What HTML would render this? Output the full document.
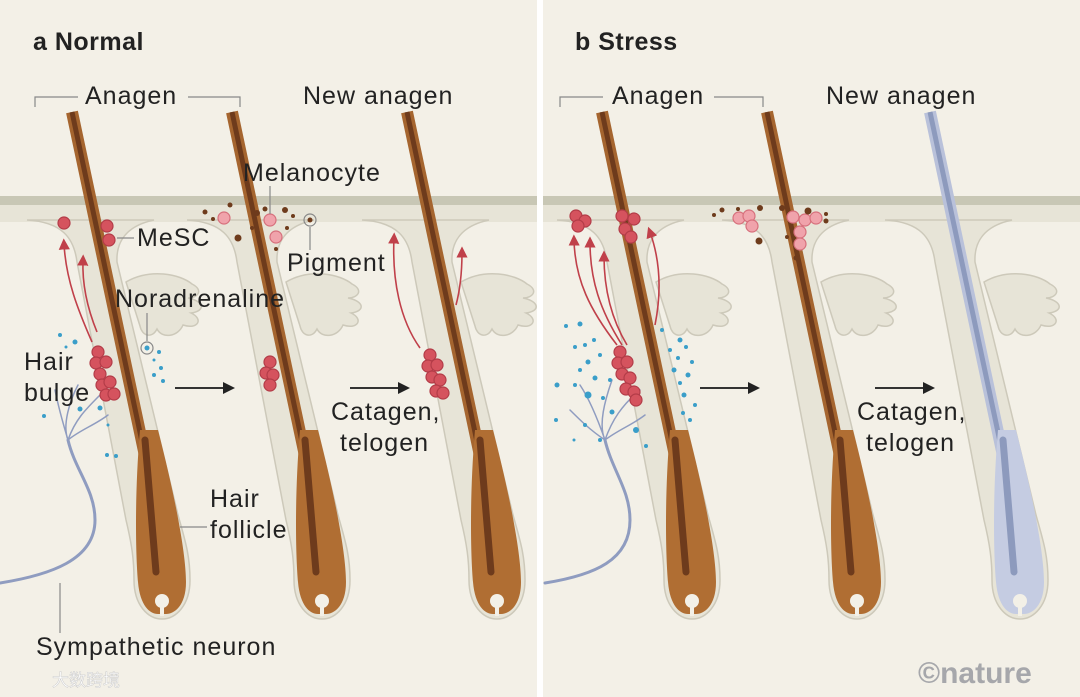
<!DOCTYPE html>
<html><head><meta charset="utf-8"><style>
html,body{margin:0;padding:0;background:#fff}
svg{display:block}
text{font-family:"Liberation Sans","Noto Sans CJK SC",sans-serif;fill:#222}
</style></head><body>
<svg width="1080" height="697" viewBox="0 0 1080 697" xmlns="http://www.w3.org/2000/svg">
<defs>
<g id="sheath">
<path d="M-135 220 C-100 222 -88 238 -85 262 L-36 520 C-30 545 -28 560 -28 580 C-28 605 -14 619 0 619 C14 619 28 605 28 580 C28 555 23 540 16 515 L-45 262 C-46 242 -36 226 -8 220 Z" fill="#e7e4d7" stroke="#cdc9ba" stroke-width="1.5"/>
<path d="M-36 282 C-12 268 18 274 30 284 C42 290 36 298 26 298 C42 301 44 311 29 313 C42 319 36 330 21 325 C16 337 0 339 -5 329 C-10 339 -20 336 -22 326 Z" fill="#e7e4d7" stroke="#cdc9ba" stroke-width="1.5"/>
</g>
<g id="hairB">
<line x1="-90" y1="112" x2="-14" y2="470" stroke="#a5652f" stroke-width="12"/>
<line x1="-90" y1="112" x2="-14" y2="470" stroke="#6e3b1c" stroke-width="5"/>
<path d="M-22 430 C-28 500 -26 560 -24 582 C-22 606 -12 614 -4 614 L4 614 C12 614 24 606 24 582 C24 555 14 500 -4 430 Z" fill="#b06e33"/>
<line x1="-17" y1="440" x2="-6" y2="572" stroke="#6e3b1c" stroke-width="7" stroke-linecap="round"/>
<circle cx="0" cy="601" r="7" fill="#f3f0e7"/><rect x="-2" y="600" width="4" height="16" fill="#f3f0e7"/>
</g>
<g id="hairG">
<line x1="-90" y1="112" x2="-14" y2="470" stroke="#b9c1da" stroke-width="12"/>
<line x1="-90" y1="112" x2="-14" y2="470" stroke="#8d9abd" stroke-width="5"/>
<path d="M-22 430 C-28 500 -26 560 -24 582 C-22 606 -12 614 -4 614 L4 614 C12 614 24 606 24 582 C24 555 14 500 -4 430 Z" fill="#c5cce2"/>
<line x1="-17" y1="440" x2="-6" y2="572" stroke="#8d9abd" stroke-width="7" stroke-linecap="round"/>
<circle cx="0" cy="601" r="7" fill="#f3f0e7"/><rect x="-2" y="600" width="4" height="16" fill="#f3f0e7"/>
</g>
<marker id="ra" markerWidth="7" markerHeight="7" refX="3.5" refY="3.5" orient="auto"><path d="M0 0 L7 3.5 L0 7 Z" fill="#c0404a"/></marker>
<g id="blk"><line x1="0" y1="0" x2="50" y2="0" stroke="#333" stroke-width="2"/><path d="M48 -6 L60 0 L48 6 Z" fill="#222"/></g>
</defs>
<rect width="1080" height="697" fill="#fff"/>
<rect x="0" y="0" width="537" height="697" fill="#f3f0e7"/>
<rect x="543" y="0" width="537" height="697" fill="#f3f0e7"/>
<rect x="0" y="204" width="537" height="18" fill="#e7e4d7"/>
<rect x="543" y="204" width="537" height="18" fill="#e7e4d7"/>
<rect x="0" y="196" width="537" height="9" fill="#c8c7b5"/>
<rect x="543" y="196" width="537" height="9" fill="#c8c7b5"/>

<use href="#sheath" transform="translate(162,0)"/><use href="#hairB" transform="translate(162,0)"/>
<use href="#sheath" transform="translate(322,0)"/><use href="#hairB" transform="translate(322,0)"/>
<use href="#sheath" transform="translate(497,0)"/><use href="#hairB" transform="translate(497,0)"/>
<use href="#sheath" transform="translate(692,0)"/><use href="#hairB" transform="translate(692,0)"/>
<use href="#sheath" transform="translate(857,0)"/><use href="#hairB" transform="translate(857,0)"/>
<use href="#sheath" transform="translate(1020,0)"/><use href="#hairG" transform="translate(1020,0)"/>

<g fill="none" stroke="#8f9cc0" stroke-linecap="round">
<path d="M0 583 C50 575 95 560 95 520 C95 490 75 470 68 440" stroke-width="3"/>
<path d="M68 440 C62 420 58 405 55 390 M68 440 C75 420 85 410 100 395 M68 440 C80 430 95 425 108 415 M68 440 C62 425 70 400 78 385" stroke-width="1.5"/>
<path d="M545 583 C595 575 630 560 630 520 C630 490 612 470 605 440" stroke-width="3"/>
<path d="M605 440 C598 420 590 400 580 385 M605 440 C612 420 622 405 640 390 M605 440 C618 430 632 425 645 415 M605 440 C598 425 605 400 612 380 M605 440 C590 430 580 420 570 410" stroke-width="1.5"/>
</g>

<g fill="none" stroke="#c0404a" stroke-width="1.6" marker-end="url(#ra)">
<path d="M92 342 C78 310 66 280 64 244"/>
<path d="M97 332 C88 310 82 285 83 260"/>
<path d="M420 348 C400 320 392 280 394 238"/>
<path d="M456 305 C460 290 462 270 462 252"/>
<path d="M617 345 C590 310 575 280 574 240"/>
<path d="M622 345 C600 310 590 280 590 242"/>
<path d="M627 345 C612 320 604 290 604 256"/>
<path d="M655 325 C662 290 660 260 650 232"/>
</g>

<g fill="#d5535e" stroke="#b33c48" stroke-width="1.2">
<circle cx="64" cy="223" r="6"/><circle cx="107" cy="226" r="6"/><circle cx="109" cy="240" r="6"/>
<circle cx="98" cy="352" r="6"/><circle cx="96" cy="363" r="6"/><circle cx="106" cy="362" r="6"/><circle cx="100" cy="374" r="6"/><circle cx="102" cy="385" r="6"/><circle cx="110" cy="382" r="6"/><circle cx="106" cy="395" r="6"/><circle cx="114" cy="394" r="6"/>
<circle cx="270" cy="362" r="6"/><circle cx="266" cy="373" r="6"/><circle cx="273" cy="375" r="6"/><circle cx="270" cy="385" r="6"/>
<circle cx="430" cy="355" r="6"/><circle cx="428" cy="366" r="6"/><circle cx="437" cy="365" r="6"/><circle cx="432" cy="377" r="6"/><circle cx="440" cy="380" r="6"/><circle cx="436" cy="391" r="6"/><circle cx="443" cy="393" r="6"/>
<circle cx="576" cy="216" r="6"/><circle cx="585" cy="221" r="6"/><circle cx="578" cy="226" r="6"/>
<circle cx="622" cy="216" r="6"/><circle cx="634" cy="219" r="6"/><circle cx="625" cy="229" r="6"/><circle cx="631" cy="237" r="6"/>
<circle cx="620" cy="352" r="6"/><circle cx="618" cy="363" r="6"/><circle cx="627" cy="362" r="6"/><circle cx="622" cy="374" r="6"/><circle cx="630" cy="378" r="6"/><circle cx="626" cy="389" r="6"/><circle cx="634" cy="392" r="6"/><circle cx="636" cy="400" r="6"/>
</g>
<g fill="#f0a3ab" stroke="#d7707c" stroke-width="1.2">
<circle cx="224" cy="218" r="6"/><circle cx="270" cy="220" r="6"/><circle cx="276" cy="237" r="6"/>
<circle cx="739" cy="218" r="6"/><circle cx="749" cy="216" r="6"/><circle cx="752" cy="226" r="6"/>
<circle cx="793" cy="217" r="6"/><circle cx="805" cy="220" r="6"/><circle cx="816" cy="218" r="6"/><circle cx="800" cy="232" r="6"/><circle cx="800" cy="244" r="6"/>
</g>
<g fill="#6e3b1c">
<circle cx="205" cy="212" r="2.5"/><circle cx="213" cy="219" r="2"/><circle cx="230" cy="205" r="2.5"/><circle cx="238" cy="238" r="3.5"/><circle cx="257" cy="213" r="3"/><circle cx="265" cy="209" r="2.5"/><circle cx="285" cy="210" r="3"/><circle cx="293" cy="216" r="2"/><circle cx="276" cy="249" r="2"/><circle cx="287" cy="228" r="2"/><circle cx="252" cy="228" r="2"/>
<circle cx="714" cy="215" r="2"/><circle cx="722" cy="210" r="2.5"/><circle cx="760" cy="208" r="3"/><circle cx="759" cy="241" r="3.5"/><circle cx="738" cy="209" r="2"/>
<circle cx="782" cy="208" r="3"/><circle cx="808" cy="211" r="3.5"/><circle cx="826" cy="221" r="2.5"/><circle cx="787" cy="237" r="2"/><circle cx="796" cy="258" r="2.5"/><circle cx="826" cy="214" r="2"/>
</g>
<circle cx="310" cy="220" r="6" fill="none" stroke="#888" stroke-width="1.2"/><circle cx="310" cy="220" r="2.5" fill="#6e3b1c"/>
<circle cx="147" cy="348" r="6" fill="none" stroke="#888" stroke-width="1.2"/><circle cx="147" cy="348" r="2.5" fill="#3a9ec9"/>
<g fill="#3a9ec9">
<circle cx="60" cy="335" r="2"/><circle cx="75" cy="342" r="2.5"/><circle cx="66" cy="347" r="1.5"/><circle cx="80" cy="409" r="2.5"/><circle cx="100" cy="408" r="2.5"/><circle cx="44" cy="416" r="2"/><circle cx="107" cy="455" r="2"/><circle cx="116" cy="456" r="2"/><circle cx="108" cy="425" r="1.5"/>
<circle cx="159" cy="352" r="2"/><circle cx="154" cy="360" r="1.5"/><circle cx="161" cy="368" r="2"/><circle cx="154" cy="375" r="2"/><circle cx="163" cy="381" r="2"/>
<circle cx="566" cy="326" r="2"/><circle cx="580" cy="324" r="2.5"/><circle cx="585" cy="345" r="2"/><circle cx="575" cy="347" r="2"/><circle cx="594" cy="340" r="2"/><circle cx="588" cy="362" r="2.5"/><circle cx="600" cy="355" r="2"/><circle cx="580" cy="370" r="2"/><circle cx="595" cy="378" r="2.5"/><circle cx="575" cy="385" r="2"/><circle cx="557" cy="385" r="2.5"/><circle cx="588" cy="395" r="3.5"/><circle cx="603" cy="398" r="2"/><circle cx="556" cy="420" r="2"/><circle cx="612" cy="412" r="2.5"/><circle cx="585" cy="425" r="2"/><circle cx="600" cy="440" r="2"/><circle cx="574" cy="440" r="1.5"/><circle cx="610" cy="380" r="2"/>
<circle cx="662" cy="330" r="2"/><circle cx="680" cy="340" r="2.5"/><circle cx="686" cy="347" r="2"/><circle cx="670" cy="350" r="2"/><circle cx="678" cy="358" r="2"/><circle cx="692" cy="362" r="2"/><circle cx="674" cy="370" r="2.5"/><circle cx="688" cy="375" r="2.5"/><circle cx="680" cy="383" r="2"/><circle cx="684" cy="395" r="2.5"/><circle cx="695" cy="405" r="2"/><circle cx="683" cy="413" r="2"/><circle cx="690" cy="420" r="2"/><circle cx="636" cy="430" r="3"/><circle cx="646" cy="446" r="2"/>
</g>
<use href="#blk" transform="translate(175,388)"/>
<use href="#blk" transform="translate(350,388)"/>
<use href="#blk" transform="translate(700,388)"/>
<use href="#blk" transform="translate(875,388)"/>
<g stroke="#888" stroke-width="1.2" fill="none">
<path d="M35 107 V97 H78 M188 97 H240 V107"/>
<path d="M560 107 V97 H603 M714 97 H763 V107"/>
<path d="M270 186 V214"/>
<path d="M117 238 H134"/>
<path d="M310 227 V250"/>
<path d="M147 313 V341"/>
<path d="M180 527 H207"/>
<path d="M60 583 V633"/>
</g>
<g font-size="25" letter-spacing="1">
<text x="33" y="50" font-weight="bold" letter-spacing="0.5">a  Normal</text>
<text x="575" y="50" font-weight="bold" letter-spacing="0.5">b  Stress</text>
<text x="85" y="104">Anagen</text>
<text x="303" y="104">New anagen</text>
<text x="612" y="104">Anagen</text>
<text x="826" y="104">New anagen</text>
<text x="243" y="181">Melanocyte</text>
<text x="137" y="246">MeSC</text>
<text x="287" y="271">Pigment</text>
<text x="115" y="307">Noradrenaline</text>
<text x="24" y="370">Hair</text>
<text x="24" y="401">bulge</text>
<text x="331" y="420">Catagen,</text>
<text x="340" y="451">telogen</text>
<text x="857" y="420">Catagen,</text>
<text x="866" y="451">telogen</text>
<text x="210" y="507">Hair</text>
<text x="210" y="538">follicle</text>
<text x="36" y="655">Sympathetic neuron</text>
</g>
<text x="918" y="683" font-family="Liberation Serif,serif" font-weight="bold" font-size="30" style="fill:#a6a7ab">©nature</text>
<text x="52" y="686" font-size="17" style="fill:#ffffff;stroke:#ccc;stroke-width:0.5">大数跨境</text>
</svg>
</body></html>
